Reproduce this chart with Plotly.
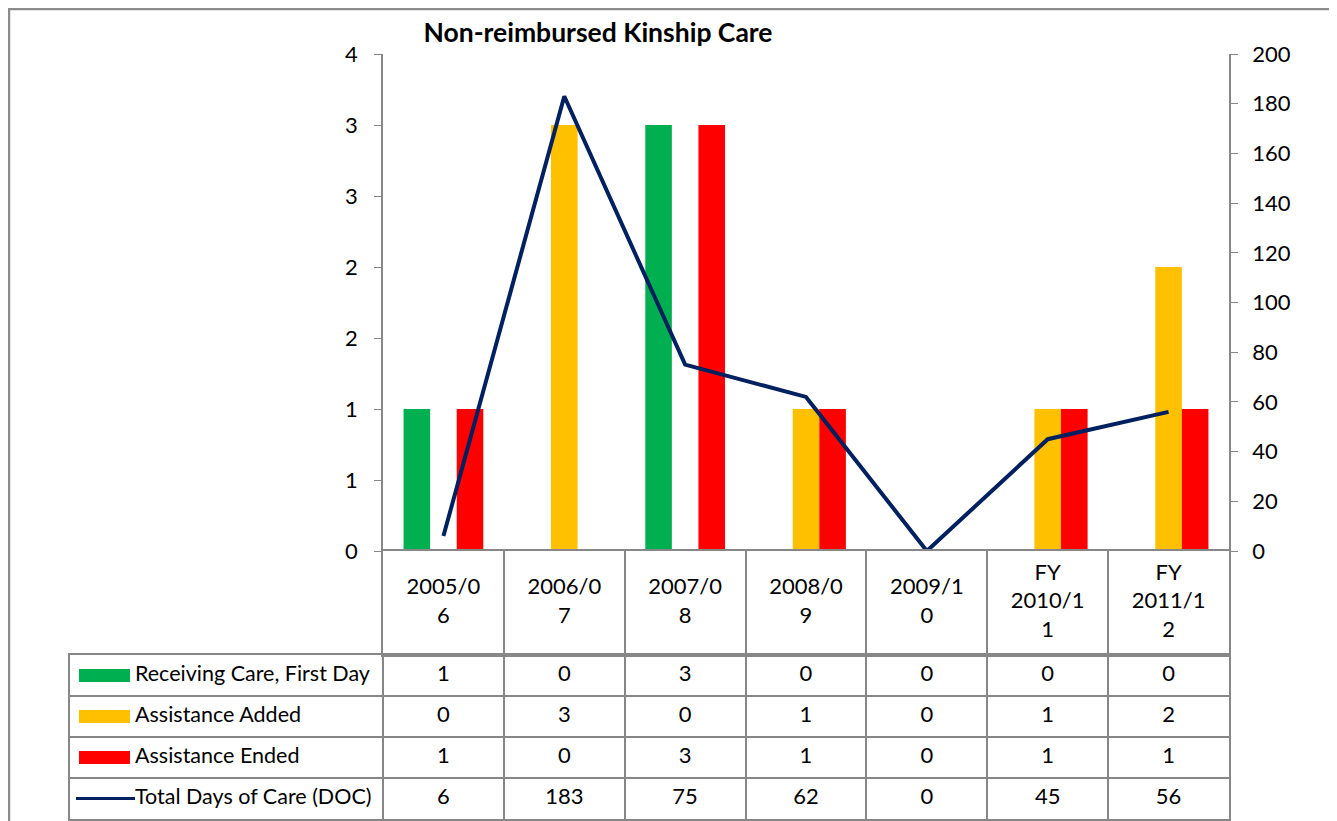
import plotly.graph_objects as go

# Data -----------------------------------------------------------------------------------------------
periods = ["2005/06", "2006/07", "2007/08", "2008/09", "2009/10", "FY 2010/11", "FY 2011/12"]
header_labels = ["2005/0<br>6", "2006/0<br>7", "2007/0<br>8", "2008/0<br>9", "2009/1<br>0",
                 "FY<br>2010/1<br>1", "FY<br>2011/1<br>2"]
receiving_care = [1, 0, 3, 0, 0, 0, 0]
assistance_added = [0, 3, 0, 1, 0, 1, 2]
assistance_ended = [1, 0, 3, 1, 0, 1, 1]
total_doc = [6, 183, 75, 62, 0, 45, 56]
series_names = ["Receiving Care, First Day", "Assistance Added", "Assistance Ended", "Total Days of Care (DOC)"]
left_tick_vals = [0, 0.5, 1, 1.5, 2, 2.5, 3, 3.5]
left_tick_text = ["0", "1", "1", "2", "2", "3", "3", "4"]
# -----------------------------------------------------------------------------------------------------

W, H = 1337, 821
OFF = 8  # page body margin, compensated so the chart lands where the reference has it
GRAY = '#878787'
COLORS = ['#00B050', '#FFC000', '#FF0000', '#002060']
FONT = 'Lato'


def px(x):
    return (x - OFF) / W


def py(y):
    return 1 - (y - OFF) / H


fig = go.Figure()

# bars + line in the chart area
for name, vals, col in zip(series_names[:3], [receiving_care, assistance_added, assistance_ended], COLORS[:3]):
    fig.add_trace(go.Bar(x=periods, y=vals, name=name, marker=dict(color=col, line_width=0),
                         xaxis='x', yaxis='y'))
fig.add_trace(go.Scatter(x=periods, y=total_doc, name=series_names[3], mode='lines',
                         line=dict(color=COLORS[3], width=4), xaxis='x', yaxis='y2'))

# header row of the data table (category labels)
fig.add_trace(go.Scatter(x=periods, y=[0.5] * len(periods), mode='text', text=header_labels,
                         textfont=dict(family=FONT, size=22, color='black'),
                         xaxis='x3', yaxis='y3', hoverinfo='skip'))

# data rows of the table
cell_w = (1229 - 383) / len(periods)
label_w = (383 - 70) / cell_w
x_left = -0.5 - label_w
rows = [receiving_care, assistance_added, assistance_ended, total_doc]
for r, vals in enumerate(rows):
    fig.add_trace(go.Scatter(x=list(range(len(vals))), y=[r] * len(vals), mode='text',
                             text=[str(v) for v in vals],
                             textfont=dict(family=FONT, size=22, color='black'),
                             xaxis='x4', yaxis='y4', hoverinfo='skip'))
    # legend key
    if r < 3:
        sw = dict(x=[x_left + 9 / cell_w, x_left + 60 / cell_w], line=dict(color=COLORS[r], width=13))
    else:
        sw = dict(x=[x_left + 6 / cell_w, x_left + 65 / cell_w], line=dict(color=COLORS[r], width=3))
    fig.add_trace(go.Scatter(y=[r, r], mode='lines', xaxis='x4', yaxis='y4', hoverinfo='skip', **sw))

fig.add_trace(go.Scatter(x=[x_left + 65 / cell_w] * 4, y=list(range(4)), mode='text', text=series_names,
                         textposition='middle right',
                         textfont=dict(family=FONT, size=21.5, color='black'),
                         xaxis='x4', yaxis='y4', hoverinfo='skip'))

fig.add_shape(type='rect', xref='paper', yref='paper', x0=px(8.5), x1=px(1332), y0=py(8.5), y1=py(840),
              line=dict(color='#8c8c8c', width=3.5), fillcolor='rgba(0,0,0,0)')

axis_font = dict(family=FONT, size=22, color='black')
line_style = dict(showline=True, linecolor=GRAY, linewidth=1.5, automargin=False)
fig.update_layout(
    width=W, height=H,
    margin=dict(l=0, r=0, t=0, b=0, pad=0),
    paper_bgcolor='white', plot_bgcolor='white',
    showlegend=False,
    barmode='group', bargap=0.34, bargroupgap=0,
    title=dict(text='<b>Non-reimbursed Kinship Care</b>', x=(598 - OFF) / W, y=1 - (33 - OFF) / H,
               xref='container', yref='container', xanchor='center', yanchor='middle',
               font=dict(family=FONT, size=26.5, color='black')),
    xaxis=dict(domain=[px(383), px(1229)], showticklabels=False, ticks='', showgrid=False,
               showline=False, automargin=False, anchor='y'),
    yaxis=dict(domain=[py(551), py(54)], range=[0, 3.5], tickvals=left_tick_vals, ticktext=left_tick_text,
               showgrid=False, zeroline=False, ticks='outside', ticklen=7, tickcolor=GRAY,
               ticklabelstandoff=12, tickfont=axis_font, anchor='x', **line_style),
    yaxis2=dict(overlaying='y', side='right', range=[0, 200], dtick=20, showgrid=False, zeroline=False,
                ticks='outside', ticklen=7, tickcolor=GRAY, ticklabelstandoff=10, tickfont=axis_font,
                anchor='x', **line_style),
    xaxis3=dict(domain=[px(383), px(1229)], matches='x', tickson='boundaries', showgrid=True,
                gridcolor=GRAY, gridwidth=1.5, showticklabels=False, ticks='', mirror=True,
                anchor='y3', **line_style),
    yaxis3=dict(domain=[py(655), py(551)], range=[0, 1], showgrid=False, zeroline=False,
                showticklabels=False, mirror=True, anchor='x3', **line_style),
    xaxis4=dict(domain=[px(70), px(1229)], range=[x_left, len(periods) - 0.5],
                tickvals=[x_left] + [i - 0.5 for i in range(len(periods) + 1)], showgrid=True,
                gridcolor=GRAY, gridwidth=1.5, zeroline=False, showticklabels=False, ticks='',
                mirror=True, anchor='y4', **line_style),
    yaxis4=dict(domain=[py(819), py(655)], range=[3.5, -0.5], tickvals=[r - 0.5 for r in range(5)],
                showgrid=True, gridcolor=GRAY, gridwidth=1.5, zeroline=False, showticklabels=False,
                ticks='', mirror=True, anchor='x4', **line_style),
)

fig.write_html("out.html")
